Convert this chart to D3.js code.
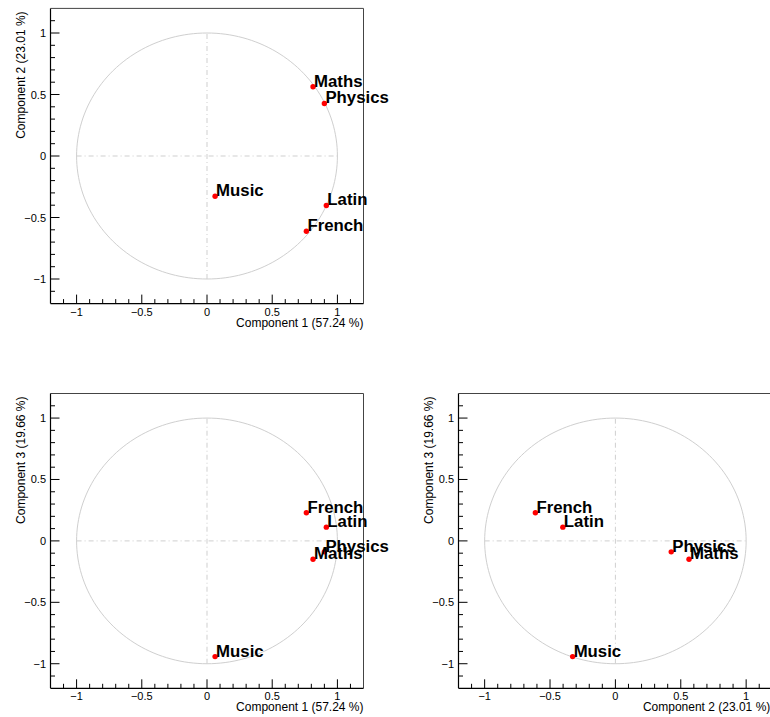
<!DOCTYPE html>
<html>
<head>
<meta charset="utf-8">
<script src="https://cdn.jsdelivr.net/npm/d3@7"></script>
<style>
  html, body { margin: 0; padding: 0; background: #fff; }
  svg { display: block; }
</style>
</head>
<body>
<svg id="chart" width="770" height="717"></svg>
<script>
// ---- data ----
const variables = ["Maths", "Physics", "Music", "Latin", "French"];
const comp1 = [0.813, 0.900, 0.062, 0.915, 0.762];
const comp2 = [0.563, 0.427, -0.327, -0.402, -0.612];
const comp3 = [-0.149, -0.089, -0.942, 0.112, 0.229];
const componentTitles = ["Component 1 (57.24 %)", "Component 2 (23.01 %)", "Component 3 (19.66 %)"];
const majorTicks = [-1, -0.5, 0, 0.5, 1];
const minorTicks = [-1.1, -0.9, -0.8, -0.7, -0.6, -0.4, -0.3, -0.2, -0.1, 0.1, 0.2, 0.3, 0.4, 0.6, 0.7, 0.8, 0.9, 1.1];
const axisDomain = [-1.2, 1.2];

const comps = [comp1, comp2, comp3];

// ---- layout ----
const panels = [
  { xi: 0, yi: 1, left: 50.5, right: 363.5, top: 8.4, bottom: 303.6 },
  { xi: 0, yi: 2, left: 50.5, right: 363.5, top: 393.5, bottom: 688.3 },
  { xi: 1, yi: 2, left: 458.5, right: 772.3, top: 393.5, bottom: 688.3 }
];

const svg = d3.select("#chart");
const FONT = "'Liberation Sans', Arial, Helvetica, sans-serif";
const fmt = v => (v < 0 ? "\u2212" : "") + String(Math.abs(v));

panels.forEach(p => {
  const g = svg.append("g");
  const x = d3.scaleLinear().domain(axisDomain).range([p.left, p.right]);
  const y = d3.scaleLinear().domain(axisDomain).range([p.bottom, p.top]);

  // unit circle
  const angles = d3.range(0, 361, 2).map(a => a * Math.PI / 180);
  g.append("path")
    .attr("d", d3.line().x(a => x(Math.cos(a))).y(a => y(Math.sin(a)))(angles))
    .attr("fill", "none").attr("stroke", "#cfcfcf").attr("stroke-width", 1);

  // dash-dot zero lines
  g.append("line")
    .attr("x1", x(-1)).attr("x2", x(1)).attr("y1", y(0)).attr("y2", y(0))
    .attr("stroke", "#cfcfcf").attr("stroke-width", 1).attr("stroke-dasharray", "5,3,1,3");
  g.append("line")
    .attr("x1", x(0)).attr("x2", x(0)).attr("y1", y(-1)).attr("y2", y(1))
    .attr("stroke", "#cfcfcf").attr("stroke-width", 1).attr("stroke-dasharray", "5,3,1,3");

  // frame top/right
  g.append("path")
    .attr("d", `M${p.left},${p.top}H${p.right}V${p.bottom}`)
    .attr("fill", "none").attr("stroke", "#444").attr("stroke-width", 1);

  // x axis (ticks inward)
  const xAxis = g.append("g");
  xAxis.append("line").attr("x1", p.left).attr("x2", p.right).attr("y1", p.bottom).attr("y2", p.bottom)
    .attr("stroke", "#000").attr("stroke-width", 1.2);
  xAxis.selectAll("line.maj").data(majorTicks).join("line").attr("class", "maj")
    .attr("x1", d => x(d)).attr("x2", d => x(d)).attr("y1", p.bottom).attr("y2", p.bottom - 9)
    .attr("stroke", "#000");
  xAxis.selectAll("line.min").data(minorTicks).join("line").attr("class", "min")
    .attr("x1", d => x(d)).attr("x2", d => x(d)).attr("y1", p.bottom).attr("y2", p.bottom - 4.5)
    .attr("stroke", "#000");
  xAxis.selectAll("text").data(majorTicks).join("text")
    .attr("x", d => x(d)).attr("y", p.bottom + 12)
    .attr("text-anchor", "middle").attr("font-family", FONT).attr("font-size", 11)
    .attr("fill", "#000").text(fmt);
  g.append("text")
    .attr("x", p.right - (p.right > 770 ? 2 : 0)).attr("y", p.bottom + 23)
    .attr("text-anchor", "end").attr("font-family", FONT).attr("font-size", 12)
    .attr("fill", "#000").text(componentTitles[p.xi]);

  // y axis
  const yAxis = g.append("g");
  yAxis.append("line").attr("x1", p.left).attr("x2", p.left).attr("y1", p.top).attr("y2", p.bottom)
    .attr("stroke", "#000").attr("stroke-width", 1.2);
  yAxis.selectAll("line.maj").data(majorTicks).join("line").attr("class", "maj")
    .attr("x1", p.left).attr("x2", p.left + 9).attr("y1", d => y(d)).attr("y2", d => y(d))
    .attr("stroke", "#000");
  yAxis.selectAll("line.min").data(minorTicks).join("line").attr("class", "min")
    .attr("x1", p.left).attr("x2", p.left + 4.5).attr("y1", d => y(d)).attr("y2", d => y(d))
    .attr("stroke", "#000");
  yAxis.selectAll("text").data(majorTicks).join("text")
    .attr("x", p.left - 4.5).attr("y", d => y(d) + 4)
    .attr("text-anchor", "end").attr("font-family", FONT).attr("font-size", 11)
    .attr("fill", "#000").text(fmt);
  g.append("text")
    .attr("transform", `translate(${p.left - 25.5},${p.top + 3}) rotate(-90)`)
    .attr("text-anchor", "end").attr("font-family", FONT).attr("font-size", 12)
    .attr("fill", "#000").text(componentTitles[p.yi]);

  // points
  const pts = variables.map((name, i) => ({ name, vx: comps[p.xi][i], vy: comps[p.yi][i] }));
  g.selectAll("circle.pt").data(pts).join("circle").attr("class", "pt")
    .attr("cx", d => x(d.vx)).attr("cy", d => y(d.vy)).attr("r", 2.7)
    .attr("fill", "#ff0000");
  g.selectAll("text.lbl").data(pts).join("text").attr("class", "lbl")
    .attr("x", d => x(d.vx) + 1).attr("y", d => y(d.vy))
    .attr("font-family", FONT).attr("font-weight", "bold").attr("font-size", 16.8)
    .attr("fill", "#000").text(d => d.name);
});
</script>
</body>
</html>
